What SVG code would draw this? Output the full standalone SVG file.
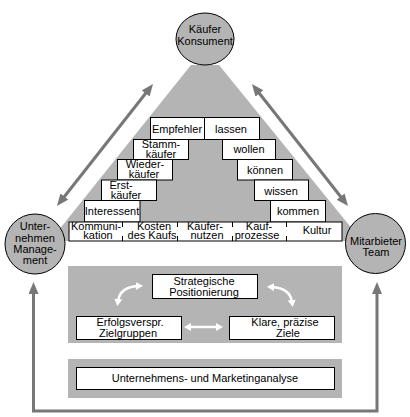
<svg xmlns="http://www.w3.org/2000/svg" width="410" height="417" viewBox="0 0 410 417">
<style>
  text { font-family: "Liberation Sans", Arial, sans-serif; font-size: 11px; fill: #000; text-anchor: middle; }
  .box { fill: #fff; stroke: #000; stroke-width: 1; }
  .circ { fill: #b4b4b4; stroke: #000; stroke-width: 1; }
  .panel { fill: #b4b4b4; }
  .garr { fill: none; stroke: #777; stroke-width: 3; }
  .warr { fill: none; stroke: #fff; stroke-width: 2.5; }
  .tick { stroke: #000; stroke-width: 1; }
</style>
<defs>
  <marker id="gh" markerUnits="userSpaceOnUse" markerWidth="13" markerHeight="11" refX="4" refY="5" orient="auto-start-reverse">
    <path d="M0,0 L12,5 L0,10 z" fill="#777"/>
  </marker>
  <marker id="wh" markerUnits="userSpaceOnUse" markerWidth="9" markerHeight="9" refX="2" refY="4" orient="auto-start-reverse">
    <path d="M0,0 L7,4 L0,8 z" fill="#fff"/>
  </marker>
</defs>
<rect width="410" height="417" fill="#fff"/>

<polygon id="triangle" points="191,65 219,65 362,241 50,241" fill="#b4b4b4"/>

<g id="connectors">
  <line class="garr" x1="61.9" y1="199.7" x2="148.1" y2="90.3" marker-start="url(#gh)" marker-end="url(#gh)"/>
  <line class="garr" x1="343.1" y1="199.7" x2="256.9" y2="90.3" marker-start="url(#gh)" marker-end="url(#gh)"/>
  <path class="garr" d="M33.5,290 V411 H377 V290" marker-start="url(#gh)" marker-end="url(#gh)"/>
</g>

<g id="node-kaeufer">
  <ellipse class="circ" cx="205" cy="39" rx="29" ry="26"/>
  <text x="205" y="33">Käufer</text>
  <text x="205" y="45">Konsument</text>
</g>
<g id="node-unternehmen">
  <circle class="circ" cx="35" cy="244" r="30"/>
  <text x="35" y="230">Unter-</text>
  <text x="35" y="242">nehmen</text>
  <text x="35" y="253">Manage-</text>
  <text x="35" y="264">ment</text>
</g>
<g id="node-mitarbeiter">
  <circle class="circ" cx="375.5" cy="243.5" r="30"/>
  <text x="376" y="245">Mitarbieter</text>
  <text x="376" y="256">Team</text>
</g>

<g id="pyramid">
  <g id="row1">
    <rect class="box" x="150.5" y="117.5" width="109" height="22"/>
    <line class="tick" x1="204.5" y1="117.5" x2="204.5" y2="139.5"/>
    <text x="177" y="133">Empfehler</text>
    <text x="231" y="133">lassen</text>
  </g>
  <g id="stammkaeufer">
    <rect class="box" x="133.5" y="139.5" width="55" height="20"/>
    <text x="161" y="148">Stamm-</text>
    <text x="161" y="158">käufer</text>
  </g>
  <g id="wollen">
    <rect class="box" x="222.5" y="139.5" width="53" height="20"/>
    <text x="249" y="153">wollen</text>
  </g>
  <g id="wiederkaeufer">
    <rect class="box" x="117.5" y="159.5" width="55" height="20.5"/>
    <text x="145" y="168">Wieder-</text>
    <text x="144" y="178">käufer</text>
  </g>
  <g id="koennen">
    <rect class="box" x="237.5" y="159.5" width="55" height="20.5"/>
    <text x="265" y="174">können</text>
  </g>
  <g id="erstkaeufer">
    <rect class="box" x="101.5" y="180" width="55" height="20.5"/>
    <text x="121" y="189">Erst-</text>
    <text x="126" y="199">käufer</text>
  </g>
  <g id="wissen">
    <rect class="box" x="254.5" y="180" width="54" height="20.5"/>
    <text x="281" y="195">wissen</text>
  </g>
  <g id="interessent">
    <rect class="box" x="84.5" y="200.5" width="55.5" height="21.5"/>
    <text x="112" y="215">Interessent</text>
  </g>
  <g id="kommen">
    <rect class="box" x="270.5" y="200.5" width="55" height="21.5"/>
    <text x="298" y="215">kommen</text>
  </g>
  <g id="bottomrow">
    <rect class="box" x="69" y="222" width="273" height="19"/>
    <path class="tick" d="M122.5,222 V227 M122.5,236 V241 M177.5,222 V227 M177.5,236 V241 M232.5,222 V227 M232.5,236 V241 M286.5,222 V227 M286.5,236 V241"/>
    <text x="96" y="230">Kommuni-</text>
    <text x="98" y="239">kation</text>
    <text x="154" y="230">Kosten</text>
    <text x="152" y="239">des Kaufs</text>
    <text x="205" y="230">Käufer-</text>
    <text x="207" y="239">nutzen</text>
    <text x="259" y="230">Kauf-</text>
    <text x="257" y="239">prozesse</text>
    <text x="317" y="234">Kultur</text>
  </g>
</g>

<rect class="panel" x="68" y="266" width="274" height="77"/>
<rect class="panel" x="68" y="359" width="274" height="39"/>

<g id="strategische">
  <rect class="box" x="152.5" y="274.5" width="105" height="24"/>
  <text x="204" y="285">Strategische</text>
  <text x="204" y="296">Positionierung</text>
</g>
<g id="zielgruppen">
  <rect class="box" x="76.5" y="316.5" width="105" height="23"/>
  <text x="130" y="326">Erfolgsverspr.</text>
  <text x="128" y="337">Zielgruppen</text>
</g>
<g id="ziele">
  <rect class="box" x="229.5" y="316.5" width="105" height="23"/>
  <text x="285" y="326">Klare, präzise</text>
  <text x="288" y="337">Ziele</text>
</g>
<g id="analyse">
  <rect class="box" x="76.5" y="367.5" width="258" height="22"/>
  <text x="205" y="382">Unternehmens- und Marketinganalyse</text>
</g>

<g id="inner-connectors">
  <line class="warr" x1="189" y1="327" x2="218" y2="327" marker-start="url(#wh)" marker-end="url(#wh)"/>
  <path class="warr" d="M118,301 Q120,287 138,286" marker-start="url(#wh)" marker-end="url(#wh)"/>
  <path class="warr" d="M272,287 Q290,288 292,302" marker-start="url(#wh)" marker-end="url(#wh)"/>
</g>
</svg>
